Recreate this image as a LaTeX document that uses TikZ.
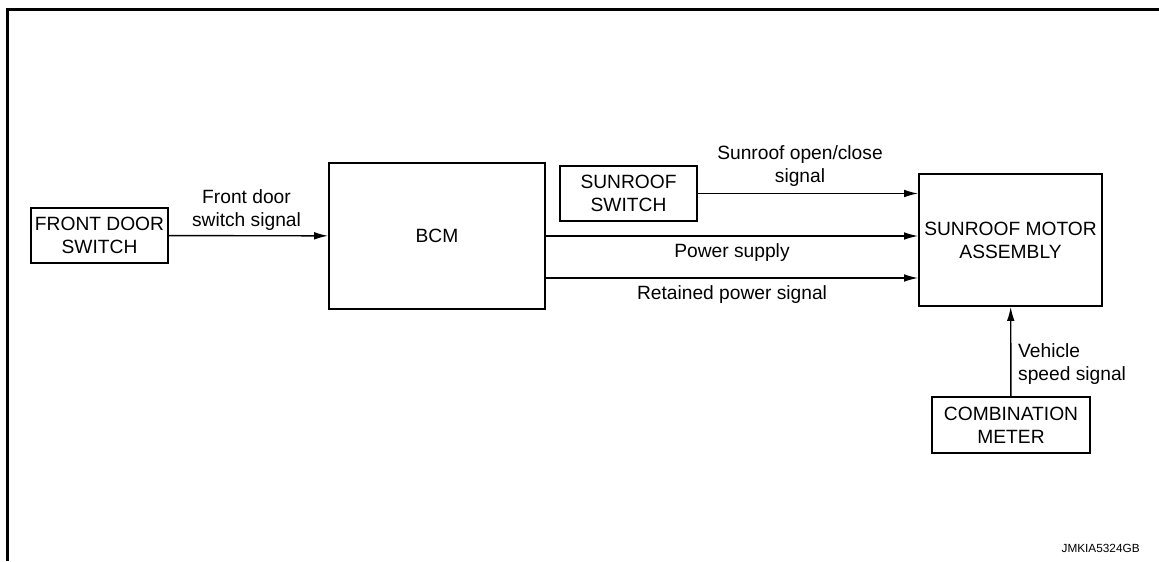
\documentclass[tikz,border=0pt]{standalone}
\usepackage{fontspec}
\setmainfont{Liberation Sans}
\usetikzlibrary{arrows.meta, positioning}

\begin{document}
\begin{tikzpicture}[x=0.5pt,y=-0.5pt,-{Latex[length=7pt,width=3.8pt]},line width=0.7pt,
font=\fontsize{9.6}{11.5}\selectfont,
block/.style={rectangle, draw, line width=0.85pt, align=center, inner sep=0pt}] % all boxes are plain rectangles, sizes set per node
\useasboundingbox (0,0) rectangle (1159,561);
\draw[-, line width=1.5pt, line join=miter] (7.5,561) |- (1159,9.5); % frame, top and left only

\node[block, minimum width=68.5pt, minimum height=27.5pt](FDS) at (99.5,235.5){FRONT DOOR\\SWITCH};
\node[block, minimum width=108pt, minimum height=73pt](BCM) at (437,236){BCM};
\node[block, minimum width=68.5pt, minimum height=27.5pt](SSW) at (628.5,193.5){SUNROOF\\SWITCH};
\node[block, minimum width=91.5pt, minimum height=66pt](MOT) at (1010.5,240){SUNROOF MOTOR\\ASSEMBLY};
\node[block, minimum width=79pt, minimum height=28pt](MET) at (1011,425){COMBINATION\\METER};

\coordinate (RET) at ([yshift=-21pt]BCM.east); % second line out of the BCM

\draw (FDS) -- node[above, align=center, xshift=-1pt, yshift=-1pt]{Front door\\switch signal} (BCM);
\draw (SSW) -- node[above, align=center, xshift=-4pt]{Sunroof open/close\\signal} (SSW -| MOT.west);
\draw (BCM.east) -- node[below]{Power supply} (BCM.east -| MOT.west);
\draw (RET) -- node[below]{Retained power signal} (RET -| MOT.west);
\draw (MET) -- node[right, align=left, pos=0.36]{Vehicle\\speed signal} (MOT);

\node[anchor=east, font=\fontsize{5.9}{7}\selectfont](ID) at (1147,548){JMKIA5324GB};
\end{tikzpicture}
\end{document}
